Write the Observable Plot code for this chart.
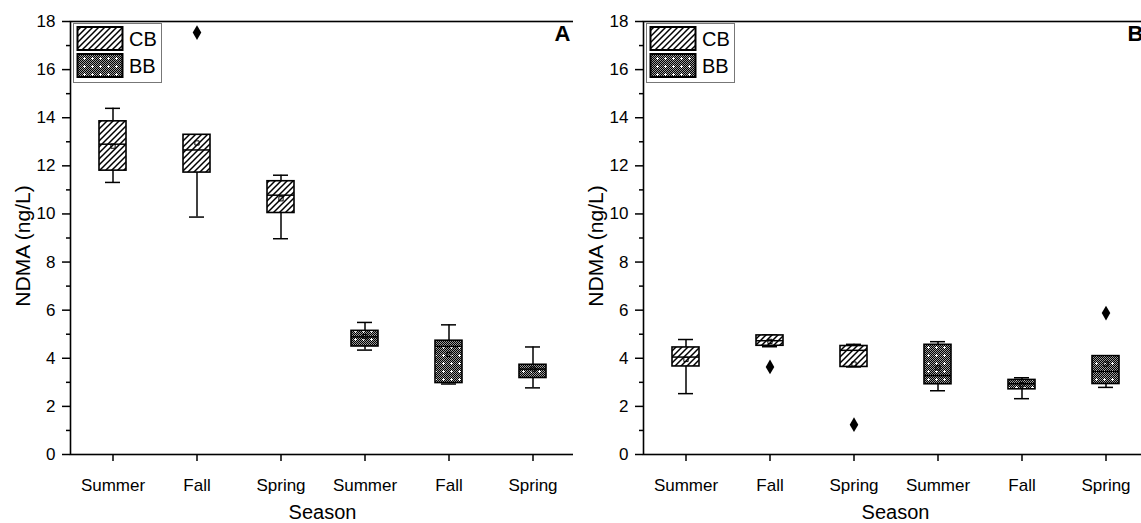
<!DOCTYPE html>
<html><head><meta charset="utf-8">
<script src="https://cdn.jsdelivr.net/npm/d3@7"></script>
<script src="https://cdn.jsdelivr.net/npm/@observablehq/plot@0.6"></script>
<style>
html,body{margin:0;padding:0;background:#fff;overflow:hidden;width:1141px;height:523px}
#wrap{position:relative;width:1141px;height:523px;overflow:hidden;background:#fff}
.panel{position:absolute;top:0;width:600px;height:523px}
.panel svg{max-width:none !important;height:523px !important}
</style></head><body>
<svg width="0" height="0" style="position:absolute">
<defs>
<pattern id="hatch" patternUnits="userSpaceOnUse" width="6" height="6">
 <rect width="6" height="6" fill="white"/>
 <path d="M-1,1 l2,-2 M0,6 l6,-6 M5,7 l2,-2" stroke="black" stroke-width="1.5"/>
</pattern>
<pattern id="chk2" patternUnits="userSpaceOnUse" width="2" height="2">
 <rect width="2" height="2" fill="#9a9a9a"/>
 <rect width="1" height="1" fill="black"/><rect x="1" y="1" width="1" height="1" fill="black"/>
</pattern>
<pattern id="check" patternUnits="userSpaceOnUse" width="8" height="8">
 <rect width="8" height="8" fill="url(#chk2)"/>
 <rect x="3" y="2" width="1" height="3" fill="white"/><rect x="2" y="3" width="3" height="1" fill="white"/>
</pattern>
</defs></svg>
<div id="wrap"><div id="pa" class="panel" style="left:0"></div><div id="pb" class="panel" style="left:573px"></div></div>
<script>
const seasons = ["Summer", "Fall", "Spring"];
const groups = ["CB", "BB"];
const yTicks = [0, 2, 4, 6, 8, 10, 12, 14, 16, 18];
const yMinorTicks = [1, 3, 5, 7, 9, 11, 13, 15, 17];
const yLabel = "NDMA (ng/L)";
const xLabel = "Season";

// order: CB Summer, CB Fall, CB Spring, BB Summer, BB Fall, BB Spring
const aLow      = [11.31, 9.87, 8.97, 4.34, 2.93, 2.77];
const aQ1       = [11.80, 11.72, 10.04, 4.49, 2.97, 3.18];
const aMedian   = [12.90, 12.66, 10.78, 4.89, 4.49, 3.55];
const aQ3       = [13.85, 13.29, 11.36, 5.14, 4.73, 3.73];
const aHigh     = [14.39, 13.29, 11.61, 5.49, 5.39, 4.47];
const aMean     = [12.82, 12.95, 10.63, 4.90, 4.16, 3.55];
const aOutliers = [[], [17.54], [], [], [], []];

const bLow      = [2.53, 4.48, 3.64, 2.65, 2.32, 2.79];
const bQ1       = [3.66, 4.52, 3.64, 2.92, 2.71, 2.93];
const bMedian   = [4.05, 4.73, 4.33, 3.28, 2.94, 3.45];
const bQ3       = [4.45, 4.95, 4.51, 4.56, 3.10, 4.09];
const bHigh     = [4.78, 4.97, 4.58, 4.69, 3.19, 4.09];
const bMean     = [3.95, 4.70, 3.76, 3.60, 2.90, 3.76];
const bOutliers = [[], [3.64], [1.24], [], [], [5.88]];

const keys = groups.flatMap(g => seasons.map(s => g + "-" + s));
const patternOf = {CB: "url(#hatch)", BB: "url(#check)"};
const FONT = "Liberation Sans, Arial, Helvetica, sans-serif";

function panel(el, label, low, q1, med, q3, high, mean, outl, mr) {
  const rows = keys.map((k, i) => ({key: k, group: k.split("-")[0], low: low[i], q1: q1[i], med: med[i], q3: q3[i], high: high[i], mean: mean[i]}));
  const outRows = rows.flatMap((r, i) => outl[i].map(v => ({key: r.key, v})));
  const W = 70 + 505 + mr;
  const chart = Plot.plot({
    width: W, height: 523, marginLeft: 70, marginRight: mr, marginTop: 21, marginBottom: 69,
    style: {fontFamily: FONT, fontSize: "17px", color: "#000", background: "white", overflow: "visible", maxWidth: "none"},
    x: {domain: keys, paddingInner: 0.68, paddingOuter: 0.34, align: 0.5, label: null},
    y: {domain: [0, 18], label: null},
    marks: [
      Plot.axisY(yTicks, {tickSize: 8, tickPadding: 7, fontSize: 17, label: null, strokeWidth: 1.5}),
      Plot.axisY(yMinorTicks, {tickSize: 4, tickFormat: () => "", label: null, strokeWidth: 1.5}),
      Plot.axisX({tickSize: 7, tickPadding: 17, fontSize: 17, label: null, strokeWidth: 1.5, tickFormat: k => k.split("-")[1]}),
      Plot.ruleX(rows, {x: "key", y1: "low", y2: "q1", stroke: "black", strokeWidth: 1.5}),
      Plot.ruleX(rows, {x: "key", y1: "q3", y2: "high", stroke: "black", strokeWidth: 1.5}),
      Plot.tickY(rows, {x: "key", y: "low", stroke: "black", strokeWidth: 1.5, insetLeft: 6, insetRight: 6}),
      Plot.tickY(rows, {x: "key", y: "high", stroke: "black", strokeWidth: 1.5, insetLeft: 6, insetRight: 6}),
      ...groups.map(g => Plot.barY(rows.filter(r => r.group === g), {x: "key", y1: "q1", y2: "q3", fill: patternOf[g], stroke: "black", strokeWidth: 1.6})),
      Plot.tickY(rows, {x: "key", y: "med", stroke: "black", strokeWidth: 1.5}),
      Plot.dot(rows, {x: "key", y: "mean", symbol: "square", r: 2.4, stroke: "black", strokeWidth: 1, fill: "none"}),
      Plot.dot(outRows, {x: "key", y: "v", symbol: "diamond", r: 4.5, fill: "black", stroke: "none"}),
      Plot.frame({stroke: "black", strokeWidth: 1.6}),
      Plot.text([label], {frameAnchor: "top-right", dx: -5, dy: 4, lineAnchor: "top", fontWeight: "bold", fontSize: 22, fill: "black"})
    ]
  });
  chart.style.maxWidth = "none";
  const svg = d3.select(chart);
  // axis titles
  svg.append("text").attr("x", 70 + 505 / 2).attr("y", 519).attr("text-anchor", "middle")
    .attr("font-size", 20).attr("font-family", FONT).attr("fill", "black").text(xLabel);
  svg.append("text").attr("transform", "translate(30,246) rotate(-90)").attr("text-anchor", "middle")
    .attr("font-size", 21).attr("font-family", FONT).attr("fill", "black").text(yLabel);
  // legend
  const lg = svg.append("g").attr("transform", "translate(73,23)");
  lg.append("rect").attr("x", 0.5).attr("y", 0.5).attr("width", 88).attr("height", 59).attr("fill", "white").attr("stroke", "#777").attr("stroke-width", 1);
  groups.forEach((g, i) => {
    lg.append("rect").attr("x", 4.5).attr("y", 4 + i * 27).attr("width", 45).attr("height", 23)
      .attr("fill", patternOf[g]).attr("stroke", "black").attr("stroke-width", 2);
    lg.append("text").attr("x", 56).attr("y", 23 + i * 27).attr("text-anchor", "start")
      .attr("font-size", 20).attr("font-family", FONT).attr("fill", "black").text(g);
  });
  document.getElementById(el).appendChild(chart);
}
panel("pa", "A", aLow, aQ1, aMedian, aQ3, aHigh, aMean, aOutliers, 5);
panel("pb", "B", bLow, bQ1, bMedian, bQ3, bHigh, bMean, bOutliers, 5);
</script>
</body></html>
